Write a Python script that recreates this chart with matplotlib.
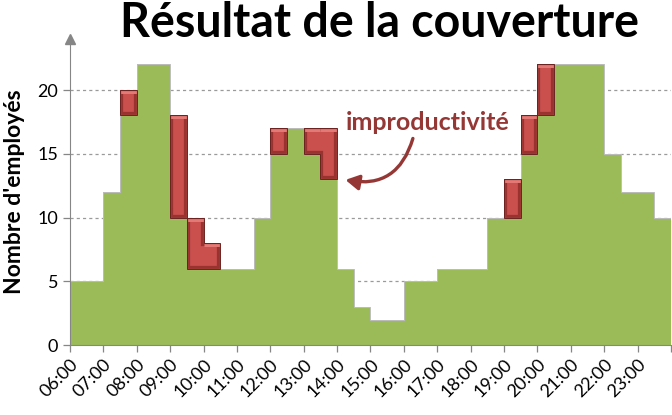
import numpy as np
import matplotlib
matplotlib.use("Agg")
import matplotlib.pyplot as plt
from matplotlib.patches import Polygon

# ---- data (half-hour slots from 06:00 to 23:30) ----
slot_start_hours = [6 + 0.5 * i for i in range(36)]
need = [5, 5, 12, 18, 22, 22, 10, 6, 6, 6, 6, 10, 15, 17, 15, 13, 6, 3,
        2, 2, 5, 5, 6, 6, 6, 10, 10, 15, 18, 22, 22, 22, 15, 12, 12, 10]
# staffed level where above the need (improductivité), else None
staffed = [None, None, None, 20, None, None, 18, 10, 8, None, None, None,
           17, None, 17, 17, None, None, None, None, None, None, None, None,
           None, None, 13, 18, 22, None, None, None, None, None, None, None]
hour_labels = ["06:00", "07:00", "08:00", "09:00", "10:00", "11:00", "12:00",
               "13:00", "14:00", "15:00", "16:00", "17:00", "18:00", "19:00",
               "20:00", "21:00", "22:00", "23:00"]
y_ticks = [0, 5, 10, 15, 20]

title = "Résultat de la couverture"
ylabel = "Nombre d'employés"
note = "improductivité"

GREEN = "#9BBB59"
RED = "#C9504D"
NOTE_RED = "#953735"
GREY = "#868686"

plt.rcParams['font.family'] = ['Lato', 'DejaVu Sans']

fig = plt.figure(figsize=(6.72, 4.15), dpi=100)
W, H = 672, 415
ax_l, ax_r, ax_b, ax_t = 70, 671, 345, 39
ax = fig.add_axes([ax_l / W, 1 - ax_b / H, (ax_r - ax_l) / W, (ax_b - ax_t) / H])

ax.set_xlim(6, 24)
ax.set_ylim(0, 24)

# grid
for v in y_ticks[1:]:
    ax.axhline(v, color="#9a9a9a", lw=0.9, ls=(0, (2.5, 2.5)), zorder=0)

# green step area
xs = np.array(slot_start_hours + [slot_start_hours[-1] + 0.5])
ys = np.array(need + [need[-1]])
ax.fill_between(xs, 0, ys, step="post", color=GREEN, lw=0, zorder=2)
ax.step(xs, ys, where="post", color="#BDBDBD", lw=0.7, zorder=2.5)

# red improductivity blocks: group overlapping consecutive slots
groups = []
cur = []
for i, s in enumerate(staffed):
    if s is None:
        if cur:
            groups.append(cur)
        cur = []
        continue
    if cur:
        j = cur[-1]
        lo = max(need[j], need[i])
        hi = min(staffed[j], s)
        if hi - lo <= 0:
            groups.append(cur)
            cur = []
    cur.append(i)
if cur:
    groups.append(cur)

for g in groups:
    top = []
    for i in g:
        xa = slot_start_hours[i]
        top += [(xa, staffed[i]), (xa + 0.5, staffed[i])]
    bot = []
    for i in reversed(g):
        xa = slot_start_hours[i]
        bot += [(xa + 0.5, need[i]), (xa, need[i])]
    verts = top + bot
    base = Polygon(verts, closed=True, facecolor=RED, edgecolor="none", zorder=3)
    ax.add_patch(base)
    edge = Polygon(verts, closed=True, facecolor="none", edgecolor="#98332F",
                   lw=4.5, zorder=4, joinstyle="miter")
    ax.add_patch(edge)
    edge.set_clip_path(base)
    # light bevel on horizontal top edges
    for k in range(len(g)):
        (xa, ya), (xb, yb) = top[2 * k], top[2 * k + 1]
        ln, = ax.plot([xa, xb], [ya, yb], color="#E47A76", lw=5,
                      solid_capstyle="butt", zorder=5)
        ln.set_clip_path(base)
    inner = Polygon(verts, closed=True, facecolor="none", edgecolor="#BA4A47",
                    lw=1.0, zorder=5.5, joinstyle="miter")
    ax.add_patch(inner)
    inner.set_clip_path(base)
    outline = Polygon(verts, closed=True, facecolor="none", edgecolor="#6A2220",
                      lw=0.7, zorder=6)
    ax.add_patch(outline)

# axes styling
for s in ["top", "right"]:
    ax.spines[s].set_visible(False)
ax.spines["left"].set_color(GREY)
ax.spines["bottom"].set_color(GREY)
ax.spines["left"].set_zorder(7)
ax.spines["bottom"].set_zorder(7)
ax.plot([0], [1], marker="^", color=GREY, markersize=7, transform=ax.transAxes,
        clip_on=False, zorder=8)

ax.set_yticks(y_ticks)
ax.set_yticklabels([str(v) for v in y_ticks])
ax.set_xticks(np.arange(6, 25, 1))
ax.set_xticklabels(hour_labels + [""], rotation=45, ha="right", va="top",
                   rotation_mode="anchor")
ax.tick_params(axis="both", colors=GREY, length=5, width=0.9, labelsize=13,
               labelcolor="black")
ax.tick_params(axis="x", pad=3)

ax.set_ylabel(ylabel, fontsize=16.5, fontweight="bold", labelpad=9)

fig.text(380 / W, 0.945, title, ha="center", va="center", fontsize=33.5,
         fontweight="bold")

ax.annotate("", xy=(14.25, 12.95), xytext=(16.27, 16.2),
            arrowprops=dict(arrowstyle="-|>,head_length=0.8,head_width=0.45",
                            color=NOTE_RED, lw=2.4,
                            connectionstyle="arc3,rad=-0.45",
                            shrinkA=0, shrinkB=0),
            zorder=9)
ax.text(16.72, 17.45, note, color=NOTE_RED, fontsize=18, fontweight="bold",
        ha="center", va="center", zorder=9)

fig.savefig("out.png", dpi=100)
